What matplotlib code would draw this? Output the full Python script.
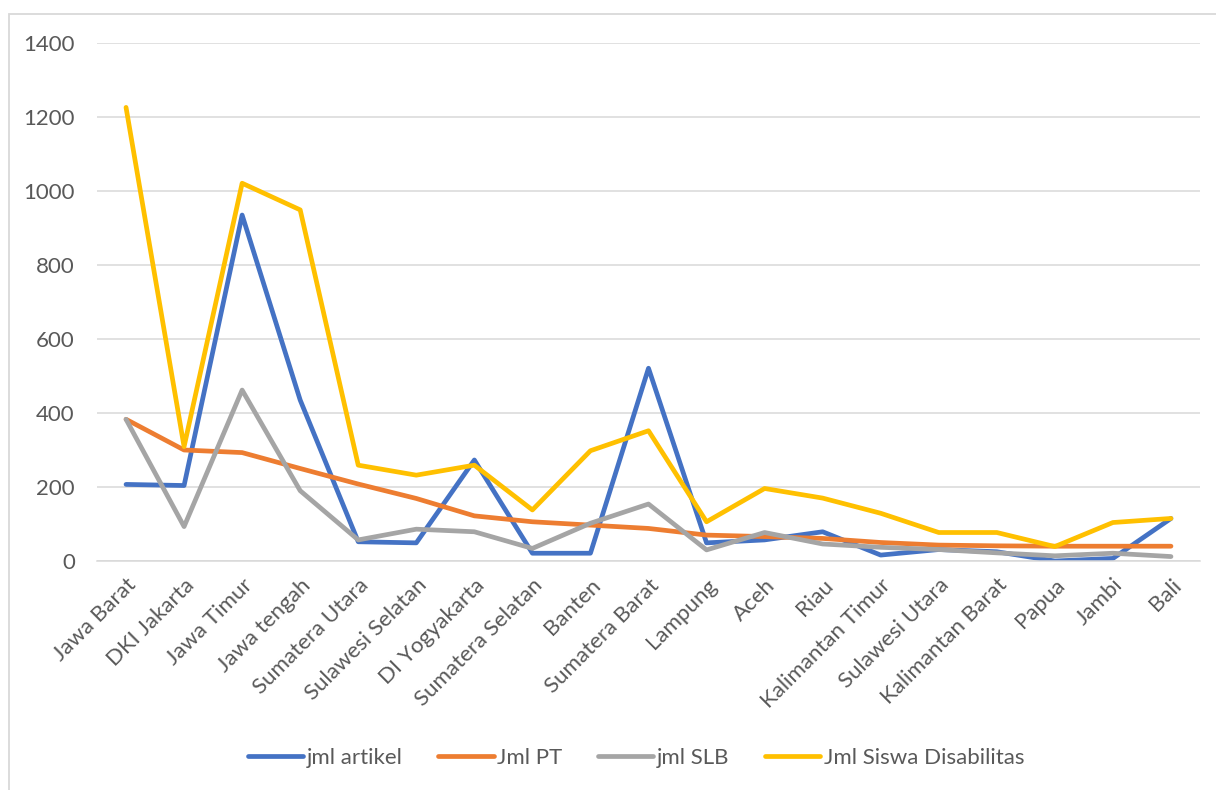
import numpy as np
import matplotlib
matplotlib.use("Agg")
from matplotlib import pyplot as plt
from matplotlib.patches import Rectangle

plt.rcParams['font.family'] = ['Lato', 'DejaVu Sans']

# provinsi + nilai per seri
provinsi = ['Jawa Barat', 'DKI Jakarta', 'Jawa Timur', 'Jawa tengah', 'Sumatera Utara',
            'Sulawesi Selatan', 'DI Yogyakarta', 'Sumatera Selatan', 'Banten', 'Sumatera Barat',
            'Lampung', 'Aceh', 'Riau', 'Kalimantan Timur', 'Sulawesi Utara',
            'Kalimantan Barat', 'Papua', 'Jambi', 'Bali']
jml_artikel = [207, 204, 935, 435, 52, 49, 273, 21, 21, 521, 49, 57, 79, 16, 31, 25, 0, 7, 115]
jml_pt = [383, 300, 293, 250, 208, 169, 122, 106, 97, 88, 70, 66, 61, 50, 43, 41, 40, 40, 40]
jml_slb = [383, 93, 462, 190, 57, 86, 79, 34, 102, 154, 30, 77, 46, 37, 31, 22, 14, 21, 12]
jml_siswa = [1226, 309, 1021, 949, 259, 232, 259, 138, 298, 352, 106, 196, 170, 129, 77, 77, 39, 104, 115]

series = [
    ('jml artikel', jml_artikel, '#4472C4'),
    ('Jml PT', jml_pt, '#ED7D31'),
    ('jml SLB', jml_slb, '#A5A5A5'),
    ('Jml Siswa Disabilitas', jml_siswa, '#FFC000'),
]

FS = 16
W, H = 1216, 790
fig = plt.figure(figsize=(W / 100, H / 100), dpi=100)
ax = fig.add_axes([97 / W, 1 - 561 / H, (1200 - 97) / W, (561 - 43) / H])

x = np.arange(len(provinsi))
for name, vals, col in series:
    ax.plot(x, vals, color=col, lw=3.4, label=name,
            solid_capstyle='round', solid_joinstyle='round')

ax.set_xlim(-0.5, len(provinsi) - 0.5)
ax.set_ylim(0, 1400)
ax.set_yticks(range(0, 1401, 200))
ax.grid(axis='y', color='#D9D9D9', lw=1.1)
ax.set_axisbelow(True)
for s in ['top', 'right', 'left']:
    ax.spines[s].set_visible(False)
ax.spines['bottom'].set_color('#D9D9D9')
ax.spines['bottom'].set_linewidth(1.1)

ax.set_xticks(x)
ax.set_xticklabels(provinsi, rotation=45, ha='right', va='top', rotation_mode='anchor')
ax.tick_params(axis='x', length=0, pad=10, labelsize=FS, labelcolor='#595959')
ax.tick_params(axis='y', length=0, pad=16, labelsize=FS, labelcolor='#595959')

ax.legend(loc='center', bbox_to_anchor=(636 / W, 1 - 758 / H), bbox_transform=fig.transFigure,
          ncol=4, frameon=False, fontsize=FS, labelcolor='#595959',
          handlelength=2.5, handletextpad=0.15, columnspacing=1.6)

# bingkai chart area (ala Excel)
fig.add_artist(Rectangle((9 / W, -0.1), 1.2, 1.1 - 14 / H, transform=fig.transFigure,
                         fill=False, edgecolor='#D9D9D9', lw=1.3))

fig.savefig('out.png', dpi=100, facecolor='white')
